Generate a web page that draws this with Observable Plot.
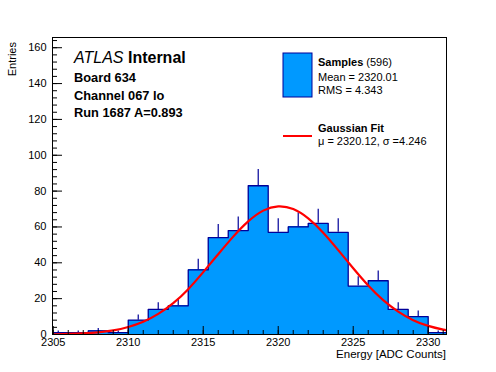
<!DOCTYPE html>
<html><head><meta charset="utf-8">
<script src="https://cdn.jsdelivr.net/npm/d3@7"></script>
<script src="https://cdn.jsdelivr.net/npm/@observablehq/plot@0.6"></script>
<style>
body{margin:0;background:#fff}
#chart{position:relative;width:496px;height:372px}
svg text{font-family:"Liberation Sans",Arial,Helvetica,sans-serif}
</style>
</head><body><div id="chart"></div>
<script>
// Histogram bin edges (ADC counts) and counts per bin
const binEdges = [2304.667, 2306, 2307.333, 2308.667, 2310, 2311.333, 2312.667, 2314, 2315.333, 2316.667,
  2318, 2319.333, 2320.667, 2322, 2323.333, 2324.667, 2326, 2327.333, 2328.667, 2330, 2331.333];
const binCounts = [1, 1, 2, 1, 8, 14, 16, 36, 54, 58, 83, 57, 60, 62, 57, 27, 30, 14, 10, 1];
// Gaussian fit curve
const fitX = [2305, 2306, 2307, 2308, 2309, 2310, 2311, 2312, 2313, 2314, 2315, 2316, 2317, 2318, 2319, 2320,
  2321, 2322, 2323, 2324, 2325, 2326, 2327, 2328, 2329, 2330, 2331, 2331.2];
const fitY = [0.1, 0.3, 0.6, 1.2, 2.3, 4.2, 7.1, 11.5, 17.5, 25.3, 34.8, 44.8, 54.6, 63.1, 69.1, 71.5,
  70.0, 64.8, 56.8, 47.1, 37.0, 27.4, 19.2, 12.8, 8.0, 4.8, 2.7, 2.4];
const xMajorTicks = [2305, 2310, 2315, 2320, 2325, 2330];
const yMajorTicks = [0, 20, 40, 60, 80, 100, 120, 140, 160];
const textLines = ["Board 634", "Channel 067 lo", "Run 1687 A=0.893"];
const legendSamples = {name: "Samples", n: "(596)", mean: "Mean = 2320.01", rms: "RMS = 4.343"};
const legendFit = {name: "Gaussian Fit", params: "\u03bc = 2320.12, \u03c3 =4.246"};

const bins = binCounts.map((v, i) => ({x1: binEdges[i], x2: binEdges[i + 1], y: v}));
const steps = bins.flatMap(b => [{x: b.x1, y: b.y}, {x: b.x2, y: b.y}]);
const fit = fitX.map((x, i) => ({x, y: fitY[i]}));
const fillC = "#0099ff", lineC = "#000099";
const font = 11;

const plot = Plot.plot({
  width: 496, height: 372,
  marginLeft: 52, marginRight: 50, marginTop: 37, marginBottom: 38,
  style: {fontFamily: '"Liberation Sans",Arial,sans-serif', fontSize: font + "px", background: "#fff"},
  x: {domain: [2304.95, 2331.22], label: null},
  y: {domain: [0, 165.7], label: null},
  marks: [
    Plot.rectY(bins, {x1: "x1", x2: "x2", y: "y", fill: fillC, inset: 0, shapeRendering: "crispEdges", clip: true}),
    Plot.ruleX(bins.filter(b => b.y > 0), {x: b => (b.x1 + b.x2) / 2, y1: "y", y2: b => b.y + Math.sqrt(b.y), stroke: lineC, strokeWidth: 1.2, clip: true}),
    Plot.line(steps, {x: "x", y: "y", stroke: lineC, strokeWidth: 1.3, clip: true}),
    Plot.line(fit, {x: "x", y: "y", stroke: "#ff0000", strokeWidth: 2.2, curve: "natural", clip: true}),
    // y axis: labels, major and minor ticks pointing inward
    Plot.axisY({ticks: yMajorTicks, tickSize: 0, tickPadding: 6, fontSize: font, fill: "#000", label: null}),
    Plot.axisY({ticks: yMajorTicks, tickSize: 10, dx: 10, tickFormat: () => "", label: null}),
    Plot.axisY({ticks: d3.range(0, 165, 4), tickSize: 5, dx: 5, tickFormat: () => "", label: null}),
    // x axis
    Plot.axisX({ticks: xMajorTicks, tickSize: 0, tickPadding: 4, tickFormat: d => String(d), fontSize: font, fill: "#000", label: null}),
    Plot.axisX({ticks: xMajorTicks, tickSize: 8, dy: -8, tickFormat: () => "", label: null}),
    Plot.axisX({ticks: d3.range(2305, 2332, 1), tickSize: 4, dy: -4, tickFormat: () => "", label: null}),
    Plot.frame({stroke: "#000", strokeWidth: 1})
  ]
});
document.getElementById("chart").appendChild(plot);

const svg = d3.select(plot);
const g = svg.append("g").attr("text-anchor", "start").attr("fill", "#000");
// axis titles
g.append("text").attr("transform", "translate(16,42) rotate(-90)").attr("text-anchor", "end")
  .attr("font-size", 11).text("Entries");
g.append("text").attr("x", 446).attr("y", 358).attr("text-anchor", "end")
  .attr("font-size", 11.5).text("Energy [ADC Counts]");

// ATLAS label block
const t0 = g.append("text").attr("x", 74).attr("y", 63).attr("font-size", 16);
t0.append("tspan").attr("font-style", "italic").text("ATLAS");
t0.append("tspan").attr("font-weight", "bold").text(" Internal");
textLines.forEach((s, i) => {
  g.append("text").attr("x", 74).attr("y", 82 + i * 17.6).attr("font-size", 12.8)
    .attr("font-weight", "bold").text(s);
});

// legend
g.append("rect").attr("x", 283).attr("y", 53).attr("width", 29).attr("height", 44)
  .attr("fill", fillC).attr("stroke", lineC).attr("stroke-width", 1);
const l1 = g.append("text").attr("x", 318).attr("y", 66).attr("font-size", 11);
l1.append("tspan").attr("font-weight", "bold").text(legendSamples.name);
l1.append("tspan").text(" " + legendSamples.n);
g.append("text").attr("x", 318).attr("y", 80.5).attr("font-size", 11).text(legendSamples.mean);
g.append("text").attr("x", 318).attr("y", 93.5).attr("font-size", 11).text(legendSamples.rms);
g.append("line").attr("x1", 283).attr("x2", 312).attr("y1", 136).attr("y2", 136)
  .attr("stroke", "#ff0000").attr("stroke-width", 2);
g.append("text").attr("x", 318).attr("y", 131.5).attr("font-size", 11).attr("font-weight", "bold").text(legendFit.name);
g.append("text").attr("x", 318).attr("y", 145).attr("font-size", 11).text(legendFit.params);
</script>
</body></html>
